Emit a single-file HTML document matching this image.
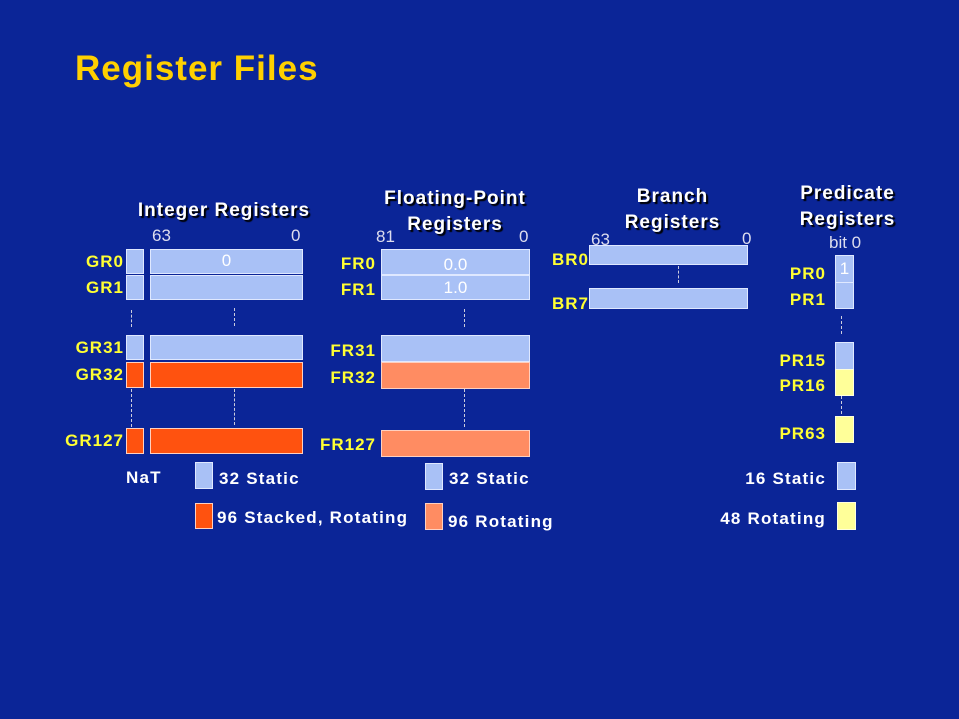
<!DOCTYPE html>
<html><head><style>
body{margin:0;width:959px;height:719px;background:#0b2597;position:relative;overflow:hidden;font-family:"Liberation Sans",sans-serif;font-weight:bold}
div{position:absolute;box-sizing:border-box}
.t{color:#fff;text-shadow:2px 2px 1px #000;font-size:19px;letter-spacing:1px;text-align:center;line-height:26px}
.lb{color:#ffff33;font-size:17px;letter-spacing:1px;text-align:right;line-height:26px}
.n{color:#dde;font-weight:normal;font-size:17px}
.lt{background:#a9c1f6;border:1px solid #dfe8ff}
.rd{background:#ff520f;border:1px solid #ffd0c0}
.sa{background:#ff8c62;border:1px solid #ffd0c0}
.ye{background:#ffff99;border:1px solid #ffffdd}
.w{color:#fff;font-size:17px;letter-spacing:1.2px;line-height:20px;white-space:nowrap}
.d{border-left:1px dashed #ccd;width:0}
.v{color:#fff;font-weight:normal;font-size:17px;text-align:center}
</style></head><body>
<div style="left:75px;top:49px;font-size:35px;letter-spacing:1px;color:#ffd000;">Register Files</div>

<!-- Integer -->
<div class="t" style="left:119px;top:198px;width:210px">Integer Registers</div>
<div class="n" style="left:152px;top:226px">63</div>
<div class="n" style="left:291px;top:226px">0</div>
<div class="lb" style="left:30px;top:249px;width:94px">GR0</div>
<div class="lb" style="left:30px;top:275px;width:94px">GR1</div>
<div class="lb" style="left:30px;top:335px;width:94px">GR31</div>
<div class="lb" style="left:30px;top:362px;width:94px">GR32</div>
<div class="lb" style="left:30px;top:428px;width:94px">GR127</div>
<div class="lt" style="left:126px;top:249px;width:18px;height:25px"></div>
<div class="lt" style="left:126px;top:275px;width:18px;height:25px"></div>
<div class="lt" style="left:126px;top:335px;width:18px;height:25px"></div>
<div class="rd" style="left:126px;top:362px;width:18px;height:26px"></div>
<div class="rd" style="left:126px;top:428px;width:18px;height:26px"></div>
<div class="lt v" style="left:150px;top:249px;width:153px;height:25px;line-height:22px">0</div>
<div class="lt" style="left:150px;top:275px;width:153px;height:25px"></div>
<div class="lt" style="left:150px;top:335px;width:153px;height:25px"></div>
<div class="rd" style="left:150px;top:362px;width:153px;height:26px"></div>
<div class="rd" style="left:150px;top:428px;width:153px;height:26px"></div>
<div class="d" style="left:131px;top:310px;height:17px"></div>
<div class="d" style="left:234px;top:308px;height:18px"></div>
<div class="d" style="left:131px;top:389px;height:38px"></div>
<div class="d" style="left:234px;top:389px;height:36px"></div>
<div class="w" style="left:126px;top:468px">NaT</div>
<div class="lt" style="left:195px;top:462px;width:18px;height:27px"></div>
<div class="w" style="left:219px;top:469px">32 Static</div>
<div class="rd" style="left:195px;top:503px;width:18px;height:26px"></div>
<div class="w" style="left:217px;top:508px">96 Stacked, Rotating</div>

<!-- FP -->
<div class="t" style="left:355px;top:186px;width:200px">Floating-Point<br>Registers</div>
<div class="n" style="left:376px;top:227px">81</div>
<div class="n" style="left:519px;top:227px">0</div>
<div class="lb" style="left:280px;top:251px;width:96px">FR0</div>
<div class="lb" style="left:280px;top:277px;width:96px">FR1</div>
<div class="lb" style="left:280px;top:338px;width:96px">FR31</div>
<div class="lb" style="left:280px;top:365px;width:96px">FR32</div>
<div class="lb" style="left:280px;top:432px;width:96px">FR127</div>
<div class="lt v" style="left:381px;top:249px;width:149px;height:26px;line-height:30px">0.0</div>
<div class="lt v" style="left:381px;top:275px;width:149px;height:25px;line-height:24px">1.0</div>
<div class="lt" style="left:381px;top:335px;width:149px;height:27px"></div>
<div class="sa" style="left:381px;top:362px;width:149px;height:27px"></div>
<div class="sa" style="left:381px;top:430px;width:149px;height:27px"></div>
<div class="d" style="left:464px;top:309px;height:18px"></div>
<div class="d" style="left:464px;top:389px;height:38px"></div>
<div class="lt" style="left:425px;top:463px;width:18px;height:27px"></div>
<div class="w" style="left:449px;top:469px">32 Static</div>
<div class="sa" style="left:425px;top:503px;width:18px;height:27px"></div>
<div class="w" style="left:448px;top:512px">96 Rotating</div>

<!-- Branch -->
<div class="t" style="left:590px;top:184px;width:165px">Branch<br>Registers</div>
<div class="n" style="left:591px;top:230px">63</div>
<div class="n" style="left:742px;top:229px">0</div>
<div class="lb" style="left:552px;top:247px;width:50px;text-align:left">BR0</div>
<div class="lb" style="left:552px;top:291px;width:50px;text-align:left">BR7</div>
<div class="lt" style="left:589px;top:245px;width:159px;height:20px"></div>
<div class="d" style="left:678px;top:266px;height:17px"></div>
<div class="lt" style="left:589px;top:288px;width:159px;height:21px"></div>

<!-- Predicate -->
<div class="t" style="left:765px;top:181px;width:165px">Predicate<br>Registers</div>
<div class="n" style="left:829px;top:233px">bit 0</div>
<div class="lb" style="left:730px;top:261px;width:96px">PR0</div>
<div class="lb" style="left:730px;top:287px;width:96px">PR1</div>
<div class="lb" style="left:730px;top:348px;width:96px">PR15</div>
<div class="lb" style="left:730px;top:373px;width:96px">PR16</div>
<div class="lb" style="left:730px;top:421px;width:96px">PR63</div>
<div class="lt v" style="left:835px;top:255px;width:19px;height:28px;line-height:26px">1</div>
<div class="lt" style="left:835px;top:282px;width:19px;height:27px"></div>
<div class="d" style="left:841px;top:316px;height:18px"></div>
<div class="lt" style="left:835px;top:342px;width:19px;height:28px"></div>
<div class="ye" style="left:835px;top:369px;width:19px;height:27px"></div>
<div class="d" style="left:841px;top:396px;height:18px"></div>
<div class="ye" style="left:835px;top:416px;width:19px;height:27px"></div>
<div class="lt" style="left:837px;top:462px;width:19px;height:28px"></div>
<div class="ye" style="left:837px;top:502px;width:19px;height:28px"></div>
<div class="w" style="left:680px;top:469px;width:146px;text-align:right">16 Static</div>
<div class="w" style="left:680px;top:509px;width:146px;text-align:right">48 Rotating</div>
</body></html>
